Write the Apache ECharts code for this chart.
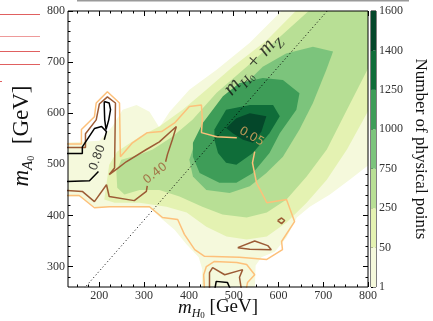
<!DOCTYPE html>
<html>
<head>
<meta charset="utf-8">
<script src="https://cdn.jsdelivr.net/npm/echarts@6.0.0/dist/echarts.min.js"></script>
<style>
  html, body { margin: 0; padding: 0; background: #fff; }
  #chart { width: 433px; height: 321px; }
</style>
</head>
<body>
<div id="chart"></div>
<script>
// Axis ranges (GeV)
const MH_RANGE = [130, 800];
const MA_RANGE = [260, 800];
const MZ = 91.19;

// Tick marks
const X_MAJOR = [200, 300, 400, 500, 600, 700, 800];
const Y_MAJOR = [300, 400, 500, 600, 700, 800];
const X_MINOR = [150, 175, 225, 250, 275, 325, 350, 375, 425, 450, 475, 525, 550, 575, 625, 650, 675, 725, 750, 775];
const Y_MINOR = [280, 320, 340, 360, 380, 420, 440, 460, 480, 520, 540, 560, 580, 620, 640, 660, 680, 720, 740, 760, 780];

// Colour bar levels (number of physical points)
const countLevels = [1, 50, 250, 750, 1000, 1250, 1400, 1600];
const bandColors = ['#f5f9dc', '#e4f2b2', '#b8df95', '#7cc47c', '#3e9d58', '#0f6d39', '#04472a'];

// Filled density regions: boundary of area with at least N points, in (m_H0, m_A0)
const region1 = [[110,542],[200,546],[229,574],[252,607],[283,616],[312,603],[334,572],[357,603],[401,646],[462,685],[536,738],[609,802],[625,822],[826,822],[826,499],[802,499],[759,470],[715,441],[670,417],[641,396],[618,357],[592,329],[562,318],[549,302],[547,245],[428,245],[430,294],[422,318],[395,343],[368,372],[341,392],[312,415],[245,417],[193,415],[155,437],[110,437]];
const region50 = [[211,431],[222,499],[240,525],[290,554],[334,574],[386,607],[439,646],[498,691],[574,743],[641,802],[647,822],[826,822],[826,607],[802,607],[753,529],[708,470],[663,425],[618,386],[574,359],[529,353],[484,359],[439,378],[395,406],[350,417],[290,425],[234,425]];
const region250 = [[240,454],[238,486],[249,509],[290,519],[319,529],[363,554],[408,587],[462,640],[529,691],[603,749],[670,802],[681,822],[826,822],[826,700],[802,691],[753,607],[708,529],[663,476],[618,431],[574,406],[529,396],[475,402],[430,417],[379,437],[334,450],[290,450],[256,441]];
const region750 = [[401,509],[416,548],[461,600],[513,646],[565,691],[617,717],[677,730],[722,721],[707,685],[677,620],[647,568],[610,515],[573,483],[536,457],[491,444],[439,450],[409,476]];
const region1000 = [[409,542],[431,581],[476,633],[513,659],[565,669],[610,665],[647,639],[640,607],[603,561],[580,522],[543,483],[506,464],[468,464],[424,483],[409,515]];
const region1250 = [[457,568],[483,607],[536,616],[588,616],[603,594],[580,561],[543,522],[506,499],[483,503],[465,522],[457,548]];
const region1400 = [[483,571],[506,590],[536,600],[573,594],[562,564],[543,542],[521,548],[498,561]];
const densityRegions = [region1, region50, region250, region750, region1000, region1250, region1400];

// Probability contours
const p05Upper = [[110,540],[160,540],[160,568],[189,593],[193,620],[218,642],[245,620],[247,515],[274,542],[307,562],[339,564],[368,581],[401,613],[428,616],[430,587],[428,562],[462,554],[507,552]];
const p05Lower = [[110,439],[155,439],[189,415],[222,417],[312,417],[341,396],[375,392],[390,363],[413,333],[435,320],[513,318],[574,314],[609,333],[607,349],[636,388],[618,431],[574,425],[551,464],[542,503],[547,525]];
const p05Bottom = [[435,251],[433,284],[439,300],[457,310],[507,308],[529,304],[547,284],[531,269],[527,251]];
const p40Upper = [[110,533],[169,533],[169,560],[193,587],[200,618],[218,632],[236,620],[234,493],[222,480],[238,490],[260,505],[305,529],[334,544],[372,574],[363,548],[352,519],[348,505]];
const p40Lower = [[307,458],[305,447],[278,429],[222,437],[216,460],[189,427],[162,447],[110,450]];
const p40Loop = [[598,390],[607,395],[614,390],[607,384],[598,390]];
const p40Wedge = [[509,337],[547,350],[576,341],[584,333],[536,334],[509,337]];
const p40Bottom = [[446,251],[446,288],[453,298],[480,284],[520,294],[513,279],[518,251]];
const p80Upper = [[110,521],[162,521],[162,534],[189,570],[205,574],[216,564],[211,548]];
const p80Lower = [[198,486],[178,468],[110,466]];
const p80Spike = [[211,623],[222,620],[225,607],[221,587],[215,568],[212,587],[211,613],[211,623]];
const p80Bottom = [[457,251],[461,271],[486,269],[495,251]];

// Text placed on the plot
const contourTags = [
  { text: '0.80', at: [196, 513], angle: 70, color: '#111111' },
  { text: '0.40', at: [325, 482], angle: 38, color: '#9c5b35' },
  { text: '0.05', at: [540, 554], angle: -30, color: '#e9ad63' }
];
const diagonalTagAt = [549, 690];

const SERIF = 'Liberation Serif';
const COL_005 = '#fdc07a';
const COL_040 = '#9c5b35';
const COL_080 = '#000000';

function regionSeries(points, color, z) {
  return {
    type: 'custom', coordinateSystem: 'cartesian2d', xAxisIndex: 0, yAxisIndex: 0,
    silent: true, z: z, data: [0],
    renderItem: function (params, api) {
      const cs = params.coordSys;
      return {
        type: 'group',
        clipPath: { type: 'rect', shape: { x: cs.x, y: cs.y, width: cs.width, height: cs.height } },
        children: [{
          type: 'polygon',
          shape: { points: points.map(function (p) { return api.coord(p); }) },
          style: { fill: color, stroke: null }
        }]
      };
    }
  };
}

function contourSeries(points, color, width) {
  return {
    type: 'line', xAxisIndex: 0, yAxisIndex: 0, data: points, showSymbol: false,
    symbol: 'none', clip: true, silent: true, z: 5,
    lineStyle: { color: color, width: width }
  };
}

const series = [];
densityRegions.forEach(function (r, i) { series.push(regionSeries(r, bandColors[i], 1 + i * 0.01)); });

// m_A0 = m_H0 + m_Z
series.push({
  type: 'line', xAxisIndex: 0, yAxisIndex: 0, showSymbol: false, symbol: 'none', clip: true, silent: true, z: 4,
  data: [[MH_RANGE[0], MH_RANGE[0] + MZ], [MH_RANGE[1], MH_RANGE[1] + MZ]],
  lineStyle: { color: '#000', width: 1, type: [1, 2.5] }
});

[p05Upper, p05Lower, p05Bottom].forEach(function (c) { series.push(contourSeries(c, COL_005, 1.5)); });
[p40Upper, p40Lower, p40Loop, p40Wedge, p40Bottom].forEach(function (c) { series.push(contourSeries(c, COL_040, 1.5)); });
[p80Upper, p80Lower, p80Spike, p80Bottom].forEach(function (c) { series.push(contourSeries(c, COL_080, 1.5)); });

series.push({
  type: 'scatter', xAxisIndex: 0, yAxisIndex: 0, symbolSize: 0, silent: true, z: 6,
  data: contourTags.map(function (t) {
    return {
      value: t.at,
      label: { show: true, position: 'inside', formatter: t.text, rotate: t.angle,
               color: t.color, fontSize: 12, fontFamily: 'DejaVu Sans' }
    };
  })
});

series.push({
  type: 'scatter', xAxisIndex: 0, yAxisIndex: 0, symbolSize: 0, silent: true, z: 6,
  data: [{
    value: diagonalTagAt,
    label: {
      show: true, position: 'inside', rotate: 49,
      formatter: '{i|m}{s|H}{ss|0}{r| + }{i|m}{s|Z}',
      rich: {
        i: { fontFamily: SERIF, fontStyle: 'italic', fontSize: 21, lineHeight: 20, padding: [0, 0, 4, 0], verticalAlign: 'bottom', color: '#111' },
        s: { fontFamily: SERIF, fontStyle: 'italic', fontSize: 14, lineHeight: 14, verticalAlign: 'bottom', color: '#111' },
        ss: { fontFamily: SERIF, fontSize: 9, lineHeight: 10, verticalAlign: 'bottom', color: '#111' },
        r: { fontFamily: SERIF, fontSize: 21, lineHeight: 20, padding: [0, 0, 4, 0], verticalAlign: 'bottom', color: '#111' }
      }
    }
  }]
});

// Colour bar bands
series.push({
  type: 'custom', coordinateSystem: 'cartesian2d', xAxisIndex: 4, yAxisIndex: 4, silent: true,
  data: bandColors.map(function (c, i) { return i; }),
  renderItem: function (params, api) {
    const i = api.value(0);
    const a = api.coord([0, i]);
    const b = api.coord([1, i + 1]);
    return { type: 'rect', shape: { x: a[0], y: b[1], width: b[0] - a[0], height: a[1] - b[1] },
             style: { fill: bandColors[i], stroke: null } };
  },
  encode: { y: 0 }
});

const tickLabel = { fontFamily: SERIF, fontSize: 12, color: '#333' };
function nameRich(size) {
  const sub = Math.round(size * 0.65), sub2 = Math.round(size * 0.45);
  return {
    i: { fontFamily: SERIF, fontStyle: 'italic', fontSize: size, lineHeight: size, padding: [0, 0, 3, 0], verticalAlign: 'bottom', color: '#111' },
    s: { fontFamily: SERIF, fontStyle: 'italic', fontSize: sub, lineHeight: sub, verticalAlign: 'bottom', color: '#111' },
    ss: { fontFamily: SERIF, fontSize: sub2, lineHeight: sub2 + 1, verticalAlign: 'bottom', color: '#111' },
    r: { fontFamily: SERIF, fontSize: size, lineHeight: size, padding: [0, 0, 3, 0], verticalAlign: 'bottom', color: '#111' }
  };
}

function tickAxis(base, pos, values, len, labels) {
  return Object.assign({
    gridIndex: 0, type: 'value', position: pos,
    axisLine: { show: false }, splitLine: { show: false },
    axisTick: { show: true, inside: true, length: len, customValues: values, lineStyle: { color: '#000', width: 1 } },
    axisLabel: labels ? Object.assign({ show: true, customValues: values, margin: 3, hideOverlap: false }, tickLabel) : { show: false }
  }, base);
}

const xBase = { min: MH_RANGE[0], max: MH_RANGE[1] };
const yBase = { min: MA_RANGE[0], max: MA_RANGE[1] };

const option = {
  animation: false,
  backgroundColor: '#ffffff',
  grid: [
    { left: 68, right: 65, top: 11, bottom: 34, show: true, borderColor: '#000', borderWidth: 1, backgroundColor: 'transparent', z: 10, outerBoundsMode: 'none', containLabel: false },
    { left: 371, width: 5, top: 11, height: 276, show: true, borderColor: '#000', borderWidth: 1, backgroundColor: 'transparent', outerBoundsMode: 'none', containLabel: false }
  ],
  xAxis: [
    tickAxis(Object.assign({
      name: '{i|m}{s|H}{ss|0}{r| [GeV]}', nameLocation: 'middle', nameGap: 14, nameMoveOverlap: false,
      nameTextStyle: { rich: nameRich(19), verticalAlign: 'top' }
    }, xBase), 'bottom', X_MAJOR, 5, true),
    tickAxis(Object.assign({}, xBase), 'bottom', X_MINOR, 2.5, false),
    tickAxis(Object.assign({}, xBase), 'top', X_MAJOR, 5, false),
    tickAxis(Object.assign({}, xBase), 'top', X_MINOR, 2.5, false),
    { gridIndex: 1, type: 'value', min: 0, max: 1, show: false }
  ],
  yAxis: [
    tickAxis(Object.assign({
      name: '{i|m}{s|A}{ss|0}{r|  [GeV]}', nameLocation: 'middle', nameGap: 32, nameRotate: 90, nameMoveOverlap: false,
      nameTextStyle: { rich: nameRich(23), padding: [0, 0, 0, 26] }
    }, yBase), 'left', Y_MAJOR, 5, true),
    tickAxis(Object.assign({}, yBase), 'left', Y_MINOR, 2.5, false),
    tickAxis(Object.assign({}, yBase), 'right', Y_MAJOR, 5, false),
    tickAxis(Object.assign({}, yBase), 'right', Y_MINOR, 2.5, false),
    {
      gridIndex: 1, type: 'value', position: 'right', min: 0, max: 7, interval: 1,
      axisLine: { show: false }, splitLine: { show: false },
      axisTick: { show: true, inside: false, length: 2, lineStyle: { color: '#000' } },
      axisLabel: Object.assign({ margin: 3, hideOverlap: false, formatter: function (v) { return String(countLevels[Math.round(v)]); } }, tickLabel),
      name: 'Number of physical points', nameLocation: 'middle', nameRotate: -90, nameGap: 36, nameMoveOverlap: false,
      nameTextStyle: { fontFamily: SERIF, fontSize: 17, color: '#111' }
    }
  ],
  graphic: [
    { type: 'line', shape: { x1: 77, y1: 0.5, x2: 409, y2: 0.5 }, style: { stroke: '#9a9a9a', lineWidth: 2 } },
    { type: 'line', shape: { x1: 0, y1: 14.5, x2: 40, y2: 14.5 }, style: { stroke: '#e06060', lineWidth: 1 } },
    { type: 'line', shape: { x1: 0, y1: 36.5, x2: 40, y2: 36.5 }, style: { stroke: '#ee9a9a', lineWidth: 1 } },
    { type: 'line', shape: { x1: 0, y1: 51.5, x2: 40, y2: 51.5 }, style: { stroke: '#e06060', lineWidth: 1 } },
    { type: 'line', shape: { x1: 0, y1: 64.5, x2: 40, y2: 64.5 }, style: { stroke: '#e06060', lineWidth: 1 } },
    { type: 'line', shape: { x1: 0, y1: 81.5, x2: 2, y2: 81.5 }, style: { stroke: '#e06060', lineWidth: 1 } }
  ],
  series: series
};

const chart = echarts.init(document.getElementById('chart'), null, { renderer: 'canvas' });
chart.setOption(option);
</script>
</body>
</html>
